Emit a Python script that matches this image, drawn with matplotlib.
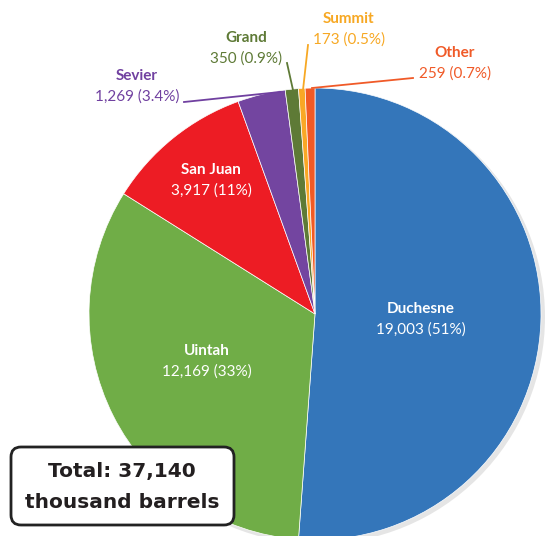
import matplotlib.pyplot as plt
from matplotlib.patches import Circle, FancyBboxPatch

counties = ["Duchesne", "Uintah", "San Juan", "Sevier", "Grand", "Summit", "Other"]
barrels = [19003, 12169, 3917, 1269, 350, 173, 259]
pct_labels = ["51%", "33%", "11%", "3.4%", "0.9%", "0.5%", "0.7%"]
colors = ["#3476BA", "#70AD47", "#ED1C24", "#7345A0", "#5E7A36", "#F9A825", "#F15A24"]
label_colors = ["white", "white", "white", "#7040A0", "#5E7A36", "#F7A823", "#F05A28"]
total = sum(barrels)

plt.rcParams["font.family"] = ["Lato", "DejaVu Sans"]

H = 536
fig = plt.figure(figsize=(5.46, 5.36), dpi=100)
ax = fig.add_axes([0, 0, 1, 1])

cx, cy, r = 315, H - 314, 226

# soft shadow behind the pie
ax.add_patch(Circle((cx + 3, cy - 3), r + 1, color="#aaaaaa", alpha=0.3, zorder=0, lw=0))

ax.pie(barrels, colors=colors, startangle=90, counterclock=False,
       center=(cx, cy), radius=r, frame=True,
       wedgeprops=dict(linewidth=0.5, edgecolor="white"))
ax.set_xlim(0, 546)
ax.set_ylim(0, H)
ax.set_aspect("equal")
ax.axis("off")

# label centres in pixels measured from the top-left corner
label_pos = [(421, 309), (207, 351), (211, 170), (137, 76), (246, 38), (349, 19), (455, 53)]

for name, val, pct, (x, y), col in zip(counties, barrels, pct_labels, label_pos, label_colors):
    ax.text(x, H - y, name, color=col, fontsize=11, fontweight="bold",
            ha="center", va="center")
    ax.text(x, H - y - 20.5, f"{val:,} ({pct})", color=col, fontsize=11,
            ha="center", va="center")

# leader lines for the small slices
leaders = [((184, 102), (280, 92), "#7040A0"),
           ((287, 63), (293, 90), "#5E7A36"),
           ((308, 45), (303, 90), "#F7A823"),
           ((413, 78), (312, 88), "#F05A28")]
for (x0, y0), (x1, y1), col in leaders:
    ax.plot([x0, x1], [H - y0, H - y1], color=col, lw=1.3, zorder=5)

box = FancyBboxPatch((11, H - 525), 223, 78, boxstyle="round,pad=0,rounding_size=10",
                     facecolor="white", edgecolor="#222222", lw=2, zorder=6)
ax.add_patch(box)
ax.text(122, H - 471, f"Total: {total:,}", fontsize=14.5, fontweight="bold",
        family="DejaVu Sans", color="#231F20", ha="center", va="center", zorder=7)
ax.text(122, H - 502, "thousand barrels", fontsize=14.5, fontweight="bold",
        family="DejaVu Sans", color="#231F20", ha="center", va="center", zorder=7)

fig.savefig("out.png", dpi=100)
plt.close(fig)
